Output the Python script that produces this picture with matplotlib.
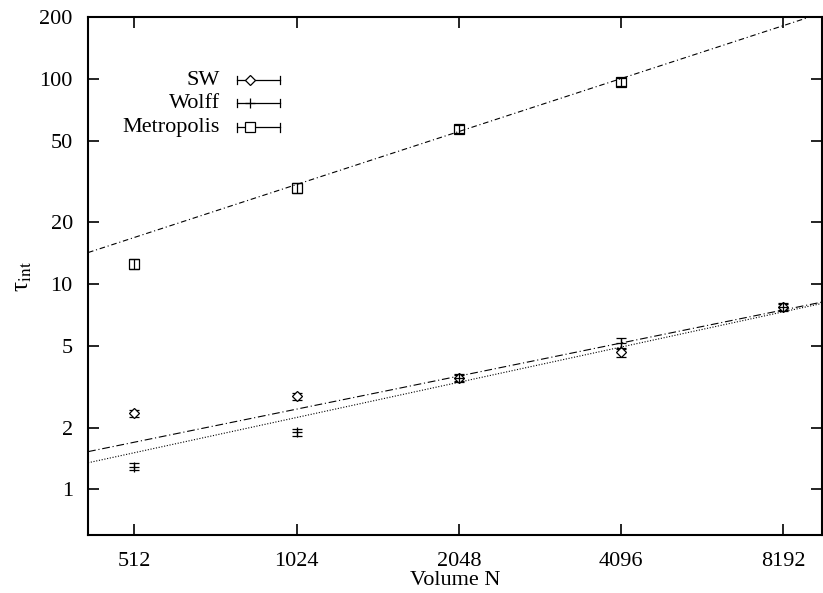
import matplotlib
matplotlib.use("Agg")
import matplotlib.pyplot as plt
import numpy as np

plt.rcParams['font.family'] = ['Liberation Serif', 'DejaVu Serif']
plt.rcParams['mathtext.fontset'] = 'stix'
plt.rcParams['font.size'] = 16

# data: volume N and tau_int with errors
N = [512, 1024, 2048, 4096, 8192]
sw_tau = [2.35, 2.84, 3.48, 4.66, 7.7]
sw_err = [0.09, 0.10, 0.14, 0.22, 0.3]
wolff_tau = [1.29, 1.90, 3.50, 5.15, 7.75]
wolff_err = [0.05, 0.07, 0.14, 0.32, 0.3]
metro_N = [512, 1024, 2048, 4096]
metro_tau = [12.5, 29.4, 57.0, 96.7]
metro_err = [0.7, 1.6, 2.6, 4.5]

# fits tau = a * (N/1024)^z
sw_fit = (2.46, 0.535)
wolff_fit = (2.24, 0.570)
metro_fit = (30.6, 0.857)

xlim = (420, 9680)
ylim = (0.6, 200)

fig = plt.figure(figsize=(8.23, 5.93), dpi=100)
ax = fig.add_axes([0.107, 0.098, 0.892, 0.873])
ax.set_xscale('log')
ax.set_yscale('log')

xx = np.geomspace(xlim[0], xlim[1], 200)
ax.plot(xx, metro_fit[0] * (xx / 1024) ** metro_fit[1], color='black', lw=0.8,
        dashes=(5, 2.5, 1, 2.5))
ax.plot(xx, sw_fit[0] * (xx / 1024) ** sw_fit[1], color='black', lw=0.8,
        dashes=(7, 2.5, 1, 2.5))
ax.plot(xx, wolff_fit[0] * (xx / 1024) ** wolff_fit[1], color='black', lw=0.8,
        dashes=(1, 1.5))

eb = dict(color='black', lw=0.9, capsize=3.5, capthick=0.9, ls='none')
ax.errorbar(N, sw_tau, yerr=sw_err, marker='D', ms=5, mfc='white', mec='black', mew=0.9, **eb)
ax.errorbar(N, wolff_tau, yerr=wolff_err, marker='+', ms=7, mec='black', mew=0.9, **eb)
ax.errorbar(metro_N, metro_tau, yerr=metro_err, marker='s', ms=7, mfc='none', mec='black', mew=0.9, **eb)

ax.set_xlim(*xlim)
ax.set_ylim(*ylim)
ax.set_xticks(N)
ax.set_xticklabels([str(n) for n in N])
yt = [1, 2, 5, 10, 20, 50, 100, 200]
ax.set_yticks(yt)
ax.set_yticklabels([str(v) for v in yt])
ax.minorticks_off()
ax.tick_params(which='both', direction='in', length=8, width=1.2, top=True, right=True)
ax.tick_params(axis='x', pad=12)
ax.tick_params(axis='y', pad=11)
for s in ax.spines.values():
    s.set_linewidth(1.5)

ax.set_xlabel('Volume N', labelpad=0)
ax.set_ylabel(r'τ$_{\rm int}$', fontsize=18, labelpad=4)

# manual legend in gnuplot style
labels = ['SW', 'Wolff', 'Metropolis']
markers = [dict(marker='D', ms=5, mfc='white'), dict(marker='+', ms=7), dict(marker='s', ms=7, mfc='white')]
x0, x1, xt = 0.203, 0.262, 0.18
ys = [0.878, 0.834, 0.787]
for lab, mk, yy in zip(labels, markers, ys):
    ax.text(xt, yy, lab, transform=ax.transAxes, ha='right', va='center', fontsize=16)
    ax.plot([x0, x1], [yy, yy], transform=ax.transAxes, color='black', lw=0.9)
    ax.plot([x0, x0], [yy - 0.008, yy + 0.008], transform=ax.transAxes, color='black', lw=0.9)
    ax.plot([x1, x1], [yy - 0.008, yy + 0.008], transform=ax.transAxes, color='black', lw=0.9)
    ax.plot([x0 + 0.017], [yy], transform=ax.transAxes, color='black', mec='black', mew=0.9, **mk)

fig.savefig('out.png', dpi=100)
